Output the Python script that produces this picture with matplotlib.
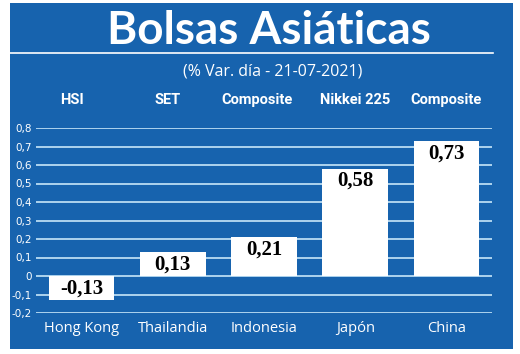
import matplotlib
matplotlib.use('Agg')
import matplotlib.pyplot as plt
from matplotlib.patches import Rectangle
from matplotlib.lines import Line2D

# Data
countries = ["Hong Kong", "Thailandia", "Indonesia", "Japón", "China"]
indices = ["HSI", "SET", "Composite", "Nikkei 225", "Composite"]
values = [-0.13, 0.13, 0.21, 0.58, 0.73]
value_labels = ["-0,13", "0,13", "0,21", "0,58", "0,73"]
yticks = [-0.2, -0.1, 0, 0.1, 0.2, 0.3, 0.4, 0.5, 0.6, 0.7, 0.8]
ytick_labels = ["-0,2", "-0,1", "0", "0,1", "0,2", "0,3", "0,4", "0,5", "0,6", "0,7", "0,8"]

blue = '#1763ae'
grid_col = '#b9dcf3'
W, H = 520, 354

fig = plt.figure(figsize=(5.2, 3.54), dpi=100)
fig.patch.set_facecolor('white')

# - Blue panel
fig.patches.append(Rectangle((10 / W, 1 - 349 / H), 503 / W, 346 / H,
                             transform=fig.transFigure, facecolor=blue,
                             edgecolor='none', zorder=-5))

# - Title and underline
fig.text(269 / W, 1 - 31 / H, "Bolsas Asiáticas", color='white', fontsize=33,
         fontweight='bold', family='Lato', ha='center', va='center')
fig.lines.append(Line2D([10 / W, 493 / W], [1 - 53 / H, 1 - 53 / H],
                        transform=fig.transFigure, color='white', lw=1.2))
fig.text(273 / W, 1 - 71 / H, "(% Var. día - 21-07-2021)", color='white',
         fontsize=11.5, family='Open Sans', ha='center', va='center')

# - Axes
ax = fig.add_axes([36 / W, 1 - 313 / H, 456 / W, 185 / H])
ax.set_zorder(2)
ax.set_facecolor('none')
x = list(range(len(values)))
ax.bar(x, values, width=0.72, color='white', zorder=3)
ax.set_xlim(-0.5, 4.5)
ax.set_ylim(-0.2, 0.8)
ax.set_yticks(yticks)
ax.set_yticklabels(ytick_labels)
for t in yticks:
    ax.axhline(t, color=grid_col, lw=1.3, zorder=1)
for s in ax.spines.values():
    s.set_visible(False)
ax.tick_params(axis='y', length=0, pad=3, labelsize=7.5, labelcolor='white')
ax.set_xticks(x)
ax.set_xticklabels(countries, color='white', fontsize=10.5, family='Open Sans')
ax.tick_params(axis='x', length=0, pad=6)

# - Value labels inside bars
for xi, v, lab in zip(x, values, value_labels):
    top = max(v, 0)
    ax.text(xi, top - 0.012, lab, ha='center', va='top', fontsize=15,
            fontweight='bold', family='Liberation Serif', color='black', zorder=4)

# - Index labels above
label_shift = [-0.1, -0.06, -0.08, 0.0, 0.0]
for xi, lab, dx in zip(x, indices, label_shift):
    fig.text((36 + 456 * (xi + 0.5 + dx) / 5) / W, 1 - 100 / H, lab, color='white',
             fontsize=10.5, fontweight='bold', family='Roboto',
             ha='center', va='center')

plt.savefig('out.png', dpi=100, facecolor='white')
